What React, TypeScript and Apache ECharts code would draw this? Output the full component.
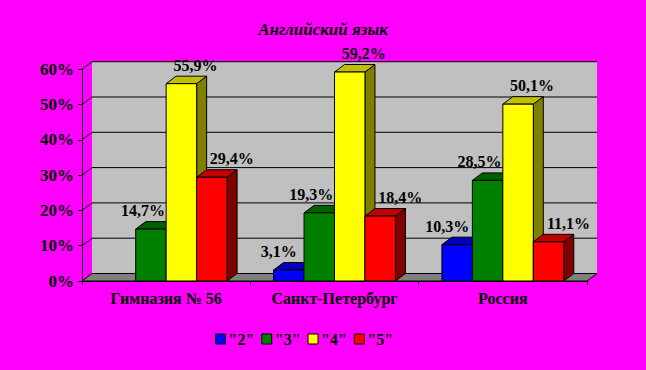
import React, { useEffect, useRef } from 'react';
import * as echarts from 'echarts';

const categories = ['Гимназия № 56', 'Санкт-Петербург', 'Россия'];
const seriesNames = ['"2"', '"3"', '"4"', '"5"'];
const grade2: (number | null)[] = [null, 3.1, 10.3];
const grade3: (number | null)[] = [14.7, 19.3, 28.5];
const grade4: (number | null)[] = [55.9, 59.2, 50.1];
const grade5: (number | null)[] = [29.4, 18.4, 11.1];
const yTicks = [0, 10, 20, 30, 40, 50, 60];
const titleText = 'Английский язык';

const allValues = [grade2, grade3, grade4, grade5];

const frontColors = ['#0000FF', '#008000', '#FFFF00', '#FF0000'];
const topColors = ['#0000C0', '#006000', '#C0C000', '#C00000'];
const sideColors = ['#000080', '#004000', '#808000', '#800000'];
const labelShift = [-10, -8, 14, 20];

const DX = 10;
const DY = -7.5;
const BAR_RATIO = 0.181;
const FONT = 'Liberation Serif, serif';

const fmt = (v: number) => v.toFixed(1).replace('.', ',') + '%';

export default function App() {
  const ref = useRef<HTMLDivElement>(null);
  useEffect(() => {
    const chart = echarts.init(ref.current!, null, { renderer: 'svg' });
    const yMin = yTicks[0];
    const yMax = yTicks[yTicks.length - 1];

    const background = {
      type: 'custom',
      name: 'bg',
      silent: true,
      z: 1,
      data: [[0, 0]],
      encode: { x: 0, y: 1 },
      renderItem: (params: any, api: any) => {
        const cs = params.coordSys;
        const x0 = cs.x;
        const x1 = cs.x + cs.width;
        const yb = api.coord([0, yMin])[1];
        const yt = api.coord([0, yMax])[1];
        const children: any[] = [];
        children.push({
          type: 'rect',
          shape: { x: x0 + DX, y: yt + DY, width: x1 - x0, height: yb - yt },
          style: { fill: '#C0C0C0' },
        });
        children.push({
          type: 'polygon',
          shape: {
            points: [
              [x0, yb],
              [x1, yb],
              [x1 + DX, yb + DY],
              [x0 + DX, yb + DY],
            ],
          },
          style: { fill: '#808080', stroke: '#000', lineWidth: 1 },
        });
        yTicks.forEach((t) => {
          if (t === yMin) return;
          const y = api.coord([0, t])[1];
          children.push({
            type: 'line',
            shape: { x1: x0 + DX, y1: y + DY, x2: x1 + DX, y2: y + DY },
            style: { stroke: '#000', lineWidth: 1 },
          });
          children.push({
            type: 'line',
            shape: { x1: x0, y1: y, x2: x0 + DX, y2: y + DY },
            style: { stroke: '#000', lineWidth: 1 },
          });
        });
        return { type: 'group', children };
      },
    };

    const barSeries = allValues.map((vals, si) => ({
      type: 'custom',
      name: seriesNames[si],
      z: 3,
      itemStyle: { color: frontColors[si], borderColor: '#000', borderWidth: 1 },
      encode: { x: 0, y: 1 },
      data: vals
        .map((v, i) => (v == null ? null : [i, v]))
        .filter((d) => d !== null),
      renderItem: (params: any, api: any) => {
        const cat = api.value(0);
        const v = api.value(1);
        const top = api.coord([cat, v]);
        const base = api.coord([cat, 0]);
        const band = api.size([1, 0])[0];
        const bw = band * BAR_RATIO;
        const xl = top[0] - 2 * bw + si * bw;
        const xr = xl + bw;
        const yt = top[1];
        const yb = base[1];
        const stroke = { stroke: '#000', lineWidth: 1 };
        return {
          type: 'group',
          children: [
            {
              type: 'polygon',
              shape: { points: [[xr, yt], [xr + DX, yt + DY], [xr + DX, yb + DY], [xr, yb]] },
              style: { fill: sideColors[si], ...stroke },
            },
            {
              type: 'polygon',
              shape: { points: [[xl, yt], [xr, yt], [xr + DX, yt + DY], [xl + DX, yt + DY]] },
              style: { fill: topColors[si], ...stroke },
            },
            {
              type: 'rect',
              shape: { x: xl, y: yt, width: bw, height: yb - yt },
              style: { fill: frontColors[si], ...stroke },
            },
            {
              type: 'text',
              x: (xl + xr) / 2 + labelShift[si],
              y: yt + DY - 11,
              style: {
                text: fmt(v),
                fill: '#000',
                fontFamily: FONT,
                fontSize: 16,
                fontWeight: 'bold',
                align: 'center',
                verticalAlign: 'middle',
              },
            },
          ],
        };
      },
    }));

    chart.setOption({
      animation: false,
      backgroundColor: '#FF00FF',
      title: {
        text: titleText,
        left: 'center',
        top: 21,
        padding: 0,
        textStyle: {
          fontFamily: FONT,
          fontSize: 17,
          fontWeight: 'bold',
          fontStyle: 'italic',
          color: '#000',
        },
      },
      legend: {
        data: seriesNames,
        left: 215,
        top: 331,
        padding: 0,
        itemWidth: 10,
        itemHeight: 10,
        itemGap: 7,
        icon: 'rect',
        itemStyle: { borderColor: '#000', borderWidth: 1 },
        textStyle: { fontFamily: FONT, fontSize: 16, fontWeight: 'bold', color: '#000', padding: [0, 0, 0, -2] },
      },
      grid: { left: 82, right: 59, top: 69.2, bottom: 89, containLabel: false },
      xAxis: {
        type: 'category',
        data: categories,
        axisLine: { show: true, lineStyle: { color: '#000', width: 1 } },
        axisTick: { show: true, length: 4, lineStyle: { color: '#000' } },
        axisLabel: {
          margin: 9,
          fontFamily: FONT,
          fontSize: 16,
          fontWeight: 'bold',
          color: '#000',
        },
        splitLine: { show: false },
      },
      yAxis: {
        type: 'value',
        min: yMin,
        max: yMax,
        interval: yTicks[1] - yTicks[0],
        axisLine: { show: true, lineStyle: { color: '#000', width: 1 } },
        axisTick: { show: true, length: 4, lineStyle: { color: '#000' } },
        axisLabel: {
          margin: 8,
          formatter: '{value}%',
          fontFamily: FONT,
          fontSize: 17,
          fontWeight: 'bold',
          color: '#000',
        },
        splitLine: { show: false },
      },
      series: [background, ...barSeries],
    });
    return () => chart.dispose();
  }, []);
  return (
    <div
      ref={ref}
      style={{ position: 'fixed', left: 0, top: 0, width: 646, height: 370 }}
    />
  );
}
